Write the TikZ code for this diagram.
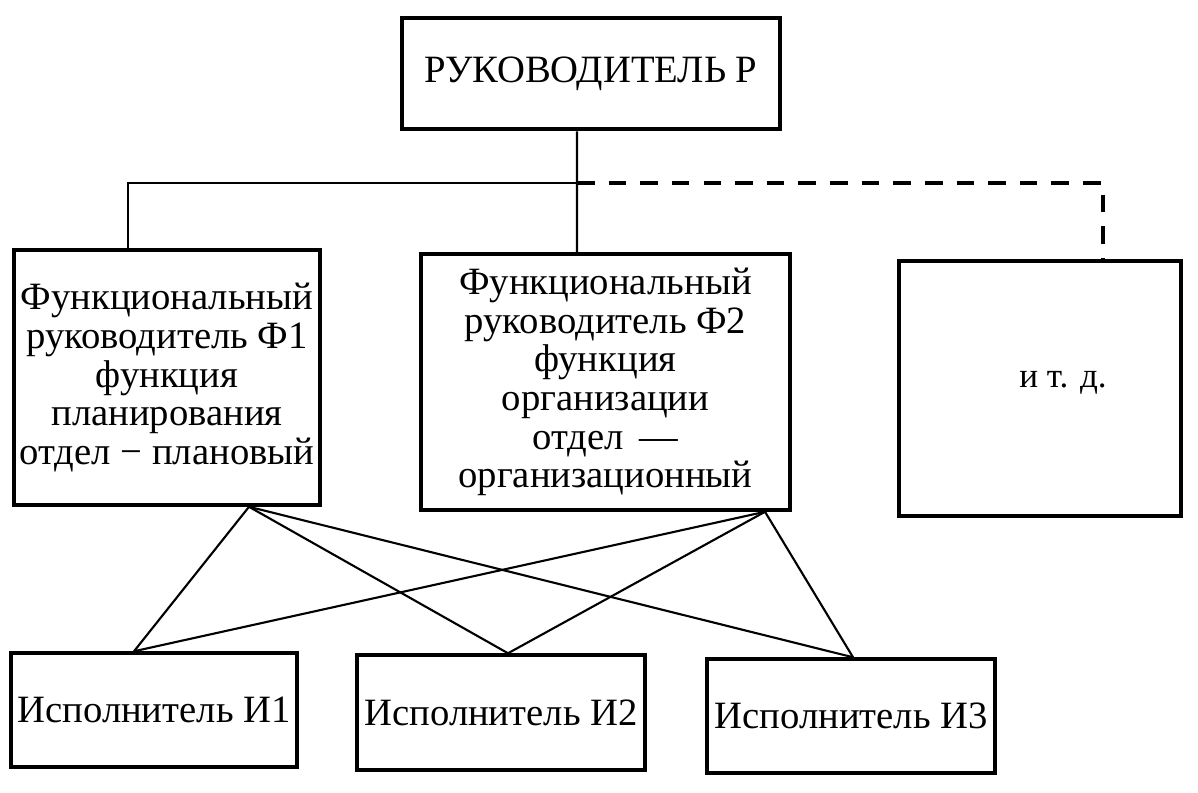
\documentclass[tikz,border=0pt]{standalone}
\usepackage{fontspec}
\setmainfont{Liberation Serif}
\begin{document}
\begin{tikzpicture}[x=0.1mm,y=-0.1mm,
    box/.style={draw, line width=1pt, inner sep=0pt, align=center,
      font=\fontsize{11}{11}\selectfont},
    link/.style={line width=0.6pt},
    dashlink/.style={line width=1.1pt, dash pattern=on 5pt off 4pt}]
  \useasboundingbox (0,0) rectangle (1198,792);

  % Head
  \node[box, line width=1.4pt, minimum width=37.8mm, minimum height=11.1mm] (head) at (591,73.5) {РУКОВОДИТЕЛЬ Р};

  % Functional managers
  \node[box, minimum width=30.6mm, minimum height=25.5mm] (f1) at (167,377.5)
    {Функциональный\\руководитель Ф1\\функция\\планирования\\отдел − плановый};
  \node[box, minimum width=36.9mm, minimum height=25.6mm] (f2) at (605.5,382)
    {Функциональный\\руководитель Ф2\\функция\\организации\\отдел \,—\\организационный};
  \node[box, minimum width=28.2mm, minimum height=25.5mm] (f3) at (1040,388.5) {};
  \node[font=\fontsize{10}{10}\selectfont] (etc) at (1063,383) {и т. д.};

  % Executors
  \node[box, minimum width=28.6mm, minimum height=11.4mm] (i1) at (154,710) {Исполнитель И1};
  \node[box, minimum width=28.8mm, minimum height=11.5mm] (i2) at (501,712.5) {Исполнитель И2};
  \node[box, minimum width=28.8mm, minimum height=11.4mm] (i3) at (851,716) {Исполнитель И3};

  % Line of command
  \coordinate (split) at (577,183);
  \draw[link] ([xshift=-1.4mm]head.south) -- (split);
  \draw[link] (split) -| ([xshift=-3.9mm]f1.north);
  \draw[link] (split) -- ([xshift=-2.85mm]f2.north);
  \draw[dashlink] (split) -| ([xshift=6.3mm]f3.north);

  % Functional links
  \coordinate (f1b) at ([xshift=8.2mm]f1.south);
  \coordinate (f2b) at ([xshift=15.95mm]f2.south);
  \coordinate (i1t) at ([xshift=-2mm]i1.north);
  \coordinate (i2t) at ([xshift=0.7mm]i2.north);
  \coordinate (i3t) at ([xshift=0.2mm]i3.north);
  \foreach \s in {f1b,f2b}
    \foreach \t in {i1t,i2t,i3t}
      \draw[link] (\s) -- (\t);
\end{tikzpicture}
\end{document}
